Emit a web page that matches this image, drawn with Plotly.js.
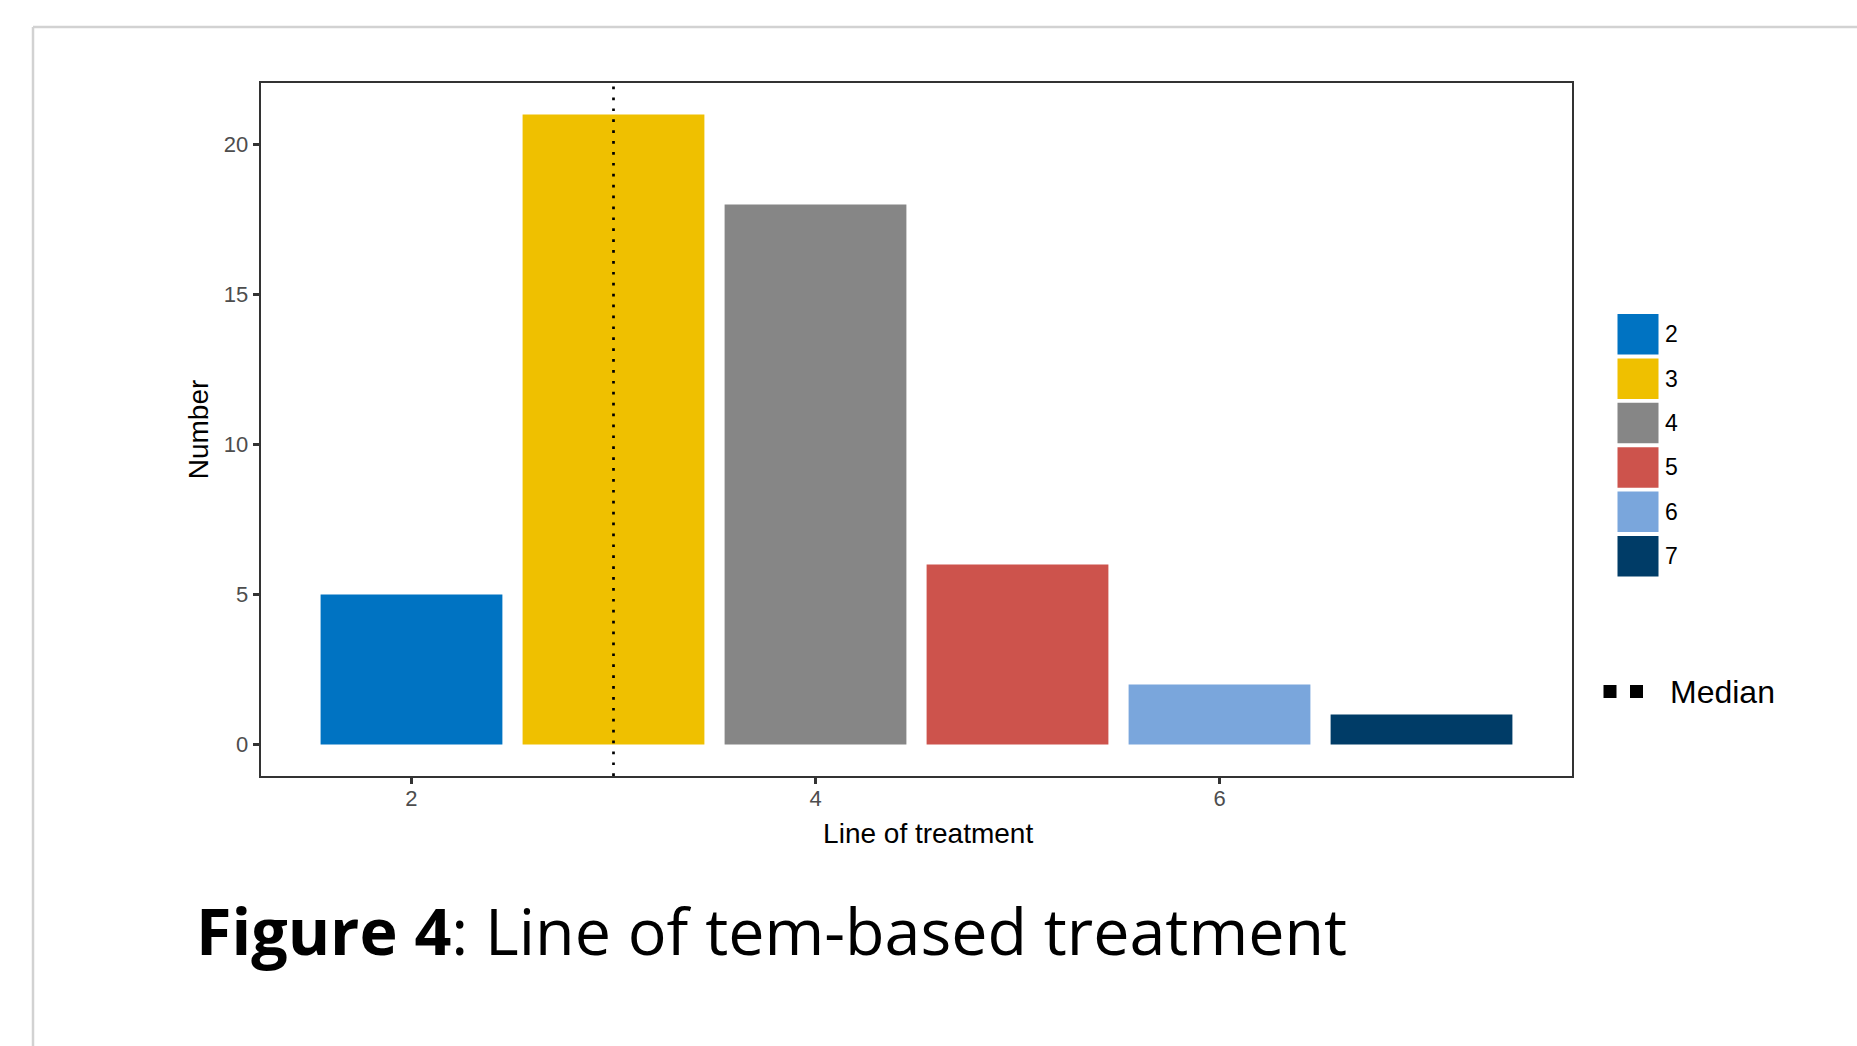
<!DOCTYPE html>
<html>
<head>
<meta charset="utf-8">
<script src="https://cdn.plot.ly/plotly-3.0.1.min.js"></script>
<style>
  html, body { margin: 0; padding: 0; background: #ffffff; }
  #chart { width: 1857px; height: 1046px; }
</style>
</head>
<body>
<div id="chart"></div>
<script>
// ---- data ----
const treatmentLines = [2, 3, 4, 5, 6, 7];
const counts = [5, 21, 18, 6, 2, 1];
const legendLabels = ['2', '3', '4', '5', '6', '7'];
const medianLine = [3];
const medianLabel = ['Median'];
const xTickVals = [2, 4, 6];
const yTickVals = [0, 5, 10, 15, 20];
const xTitle = 'Line of treatment';
const yTitle = 'Number';
const captionBold = 'Figure 4';
const captionRest = ': Line of tem-based treatment';

// ---- style ----
const palette = ['#0073C2', '#EFC000', '#868686', '#CD534C', '#7AA6DC', '#003C67'];
const W = 1857, H = 1046;
const P = { l: 261, r: 1572, t: 83, b: 776 };
const pw = P.r - P.l, ph = P.b - P.t;
const fx = px => (px - P.l) / pw;
const fy = py => (P.b - py) / ph;
const axisFont = '"Liberation Sans", Arial, Helvetica, sans-serif';

const traces = [{
  type: 'bar',
  x: treatmentLines,
  y: counts,
  width: 0.9,
  marker: { color: palette, line: { width: 0 } },
  showlegend: false,
  hoverinfo: 'x+y'
}];

const shapes = [];
const annotations = [];

// page border (light grey frame of the figure page)
shapes.push({ type: 'line', xref: 'paper', yref: 'paper',
  x0: fx(33), x1: fx(W + 5), y0: fy(27), y1: fy(27),
  line: { color: '#d2d2d2', width: 2.5 } });
shapes.push({ type: 'line', xref: 'paper', yref: 'paper',
  x0: fx(33), x1: fx(33), y0: fy(27), y1: fy(H + 5),
  line: { color: '#d2d2d2', width: 2.5 } });

// median dotted line
medianLine.forEach(m => {
  shapes.push({ type: 'line', xref: 'x', yref: 'paper',
    x0: m, x1: m, y0: 0, y1: 1,
    line: { color: '#000000', width: 2.7, dash: '2.7px,8.2px' }, layer: 'above' });
});

// legend for fill colours
const boxL = 1617.5, boxR = 1658.5, boxTop0 = 314, boxStep = 44.4, boxH = 40.5;
legendLabels.forEach((lab, i) => {
  const top = boxTop0 + i * boxStep;
  shapes.push({ type: 'rect', xref: 'paper', yref: 'paper',
    x0: fx(boxL), x1: fx(boxR), y0: fy(top + boxH), y1: fy(top),
    fillcolor: palette[i], line: { width: 0 } });
  annotations.push({ xref: 'paper', yref: 'paper',
    x: fx(1662.5), y: fy(top + boxH / 2), xanchor: 'left', yanchor: 'middle',
    text: lab, showarrow: false,
    font: { family: axisFont, size: 23, color: '#000000' } });
});

// legend for median
shapes.push({ type: 'line', xref: 'paper', yref: 'paper',
  x0: fx(1603.5), x1: fx(1643.5), y0: fy(691.5), y1: fy(691.5),
  line: { color: '#000000', width: 13, dash: '13px,13.5px' } });
annotations.push({ xref: 'paper', yref: 'paper',
  x: fx(1668), y: fy(692), xanchor: 'left', yanchor: 'middle',
  text: medianLabel[0], showarrow: false,
  font: { family: axisFont, size: 32, color: '#000000' } });

// caption
annotations.push({ xref: 'paper', yref: 'paper',
  x: fx(194), y: fy(930), xanchor: 'left', yanchor: 'middle',
  text: '<b>' + captionBold + '</b>' + captionRest, showarrow: false,
  font: { family: '"Open Sans", Carlito, Lato, sans-serif', size: 64.6, color: '#000000' } });

const axisCommon = {
  showline: true, mirror: true, linecolor: '#333333', linewidth: 2.4,
  showgrid: false, zeroline: false,
  ticks: 'outside', ticklen: 6, tickwidth: 2.2, tickcolor: '#333333',
  tickfont: { family: axisFont, size: 22, color: '#4d4d4d' },
  fixedrange: true
};

const layout = {
  width: W, height: H,
  margin: { l: P.l, r: W - P.r, t: P.t, b: H - P.b, pad: 0 },
  paper_bgcolor: '#ffffff', plot_bgcolor: '#ffffff',
  showlegend: false,
  xaxis: Object.assign({}, axisCommon, {
    range: [1.255, 7.745], tickmode: 'array', tickvals: xTickVals,
    ticktext: xTickVals.map(String),
    ticklabelstandoff: -5,
    title: { text: '<span style="color:rgba(0,0,0,0)">M</span>' + xTitle, standoff: 14,
             font: { family: axisFont, size: 28, color: '#000000' } }
  }),
  yaxis: Object.assign({}, axisCommon, {
    range: [-1.05, 22.05], tickmode: 'array', tickvals: yTickVals,
    ticktext: yTickVals.map(String),
    title: { text: yTitle, standoff: 7, font: { family: axisFont, size: 28, color: '#000000' } }
  }),
  shapes: shapes,
  annotations: annotations
};

Plotly.newPlot('chart', traces, layout, { displayModeBar: false, staticPlot: true });
</script>
</body>
</html>
